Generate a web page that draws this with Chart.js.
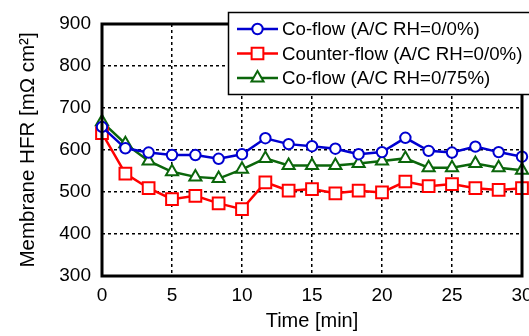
<!DOCTYPE html>
<html>
<head>
<meta charset="utf-8">
<script src="https://cdn.jsdelivr.net/npm/chart.js@4.4.0/dist/chart.umd.min.js"></script>
<style>
  html, body { margin: 0; padding: 0; background: #ffffff; overflow: hidden; }
  #wrap { width: 529px; height: 336px; position: relative; overflow: hidden; }
  #c { position: absolute; left: 0; top: 0; }
</style>
</head>
<body>
<div id="wrap"><canvas id="c" width="545" height="336"></canvas></div>
<script>
// ---- Data ----
const times = [0, 1.67, 3.33, 5, 6.67, 8.33, 10, 11.67, 13.33, 15, 16.67, 18.33, 20, 21.67, 23.33, 25, 26.67, 28.33, 30];
const coFlow00 = [655, 604, 594, 588, 588, 579, 590, 628, 614, 609, 603, 590, 595, 629, 598, 594, 608, 595, 584];
const counterFlow00 = [640, 544, 509, 483, 491, 473, 459, 523, 503, 507, 497, 503, 499, 525, 514, 519, 509, 505, 509];
const coFlow075 = [667, 615, 574, 548, 536, 532, 554, 580, 563, 563, 563, 568, 574, 580, 558, 558, 568, 558, 552];
const seriesLabels = ['Co-flow (A/C RH=0/0%)', 'Counter-flow (A/C RH=0/0%)', 'Co-flow (A/C RH=0/75%)'];
const xTicks = [0, 5, 10, 15, 20, 25, 30];
const yTicks = [300, 400, 500, 600, 700, 800, 900];
const xTitle = 'Time [min]';
const yTitle = 'Membrane HFR [m\u03A9 cm\u00B2]';

const toXY = arr => arr.map((v, i) => ({ x: times[i], y: v }));

const BLUE = '#0000d0', RED = '#ff0000', GREEN = '#0b660b';
const FONT = 'Arial, "Liberation Sans", sans-serif';

const frame = {
  id: 'frame',
  afterDraw(chart) {
    const { ctx, chartArea: a } = chart;
    ctx.save();
    ctx.strokeStyle = '#000';
    ctx.lineWidth = 3;
    ctx.strokeRect(a.left, a.top, a.right - a.left, a.bottom - a.top);
    ctx.restore();
  }
};

function marker(ctx, style, x, y, r, color) {
  ctx.save();
  ctx.fillStyle = '#fff';
  ctx.strokeStyle = color;
  ctx.lineWidth = 2;
  ctx.beginPath();
  if (style === 'circle') {
    ctx.arc(x, y, r, 0, Math.PI * 2);
  } else if (style === 'rect') {
    const s = r * Math.SQRT1_2;
    ctx.rect(x - s, y - s, 2 * s, 2 * s);
  } else {
    for (let k = 0; k < 3; k++) {
      const ang = k * 2 * Math.PI / 3;
      const px = x + Math.sin(ang) * r, py = y - Math.cos(ang) * r;
      if (k === 0) ctx.moveTo(px, py); else ctx.lineTo(px, py);
    }
    ctx.closePath();
  }
  ctx.fill();
  ctx.stroke();
  ctx.restore();
}

const legendBox = {
  id: 'legendBox',
  afterDraw(chart) {
    const { ctx } = chart;
    ctx.save();
    ctx.fillStyle = '#fff';
    ctx.fillRect(228, 12, 310, 82);
    ctx.strokeStyle = '#000';
    ctx.lineWidth = 1.5;
    ctx.strokeRect(228.5, 12.5, 310, 82);
    const rows = [29, 53.5, 78];
    chart.data.datasets.forEach((ds, i) => {
      const y = rows[i];
      ctx.strokeStyle = ds.borderColor;
      ctx.lineWidth = ds.borderWidth;
      ctx.beginPath();
      ctx.moveTo(237, y);
      ctx.lineTo(278, y);
      ctx.stroke();
      marker(ctx, ds.pointStyle, 257.5, y, ds.pointRadius, ds.borderColor);
      ctx.fillStyle = '#000';
      ctx.font = '18.7px ' + FONT;
      ctx.textBaseline = 'middle';
      ctx.textAlign = 'left';
      ctx.fillText(ds.label, 282, y + 1);
    });
    ctx.restore();
  }
};

const mk = (label, data, color, style, r) => ({
  label, data: toXY(data),
  borderColor: color, backgroundColor: '#ffffff',
  borderWidth: 2.5, pointStyle: style, pointRadius: r, pointHoverRadius: r,
  pointBorderWidth: 2, pointBackgroundColor: '#ffffff', pointBorderColor: color,
  tension: 0, clip: false
});

new Chart(document.getElementById('c'), {
  type: 'line',
  data: {
    datasets: [
      mk(seriesLabels[0], coFlow00, BLUE, 'circle', 5.2),
      mk(seriesLabels[1], counterFlow00, RED, 'rect', 8.3),
      mk(seriesLabels[2], coFlow075, GREEN, 'triangle', 7)
    ]
  },
  options: {
    responsive: false,
    animation: false,
    devicePixelRatio: 1,
    layout: { padding: { top: 24, right: 23, left: 0, bottom: 0 } },
    plugins: { legend: { display: false }, tooltip: { enabled: false } },
    scales: {
      x: {
        type: 'linear', min: 0, max: 30,
        afterBuildTicks: s => { s.ticks = xTicks.map(v => ({ value: v })); },
        afterFit: s => { s.height = 60; },
        grid: { color: '#000', lineWidth: 1.5, drawTicks: false },
        border: { display: false, dash: [3, 3] },
        ticks: { color: '#000', font: { size: 19, family: FONT }, padding: 8, maxRotation: 0, autoSkip: false },
        title: { display: true, text: xTitle, color: '#000', font: { size: 20, family: FONT }, padding: { top: 0, bottom: 3 } }
      },
      y: {
        min: 300, max: 900,
        afterBuildTicks: s => { s.ticks = yTicks.map(v => ({ value: v })); },
        afterFit: s => { s.width = 102; },
        grid: { color: '#000', lineWidth: 1.5, drawTicks: false },
        border: { display: false, dash: [3, 3] },
        ticks: { color: '#000', font: { size: 19, family: FONT }, padding: 11, autoSkip: false },
        title: { display: true, text: yTitle, color: '#000', font: { size: 20.5, family: FONT }, padding: { top: 16, bottom: 16 } }
      }
    }
  },
  plugins: [frame, legendBox]
});
</script>
</body>
</html>
